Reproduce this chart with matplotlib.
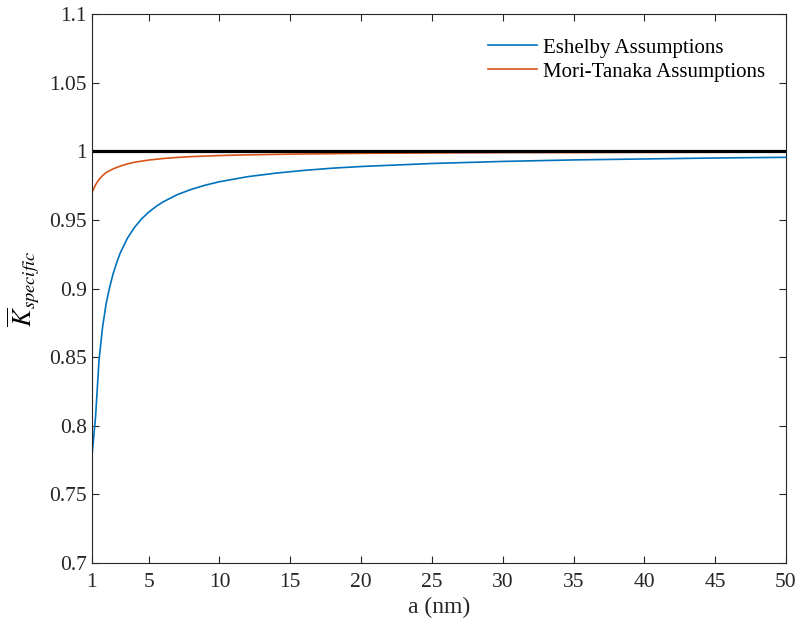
import numpy as np
import matplotlib
matplotlib.use("Agg")
import matplotlib.pyplot as plt

# values
a_esh = [1.0, 1.25, 1.5, 1.75, 2.0, 2.25, 2.5, 2.75, 3.0, 3.5, 4.0, 4.5, 5.0,
         5.5, 6.0, 7.0, 8.0, 9.0, 10, 12, 14, 16, 18, 20, 25, 30, 35, 40, 45, 50]
k_esh = [0.778, 0.806, 0.848, 0.872, 0.889, 0.901, 0.911, 0.919, 0.926, 0.9366,
         0.9445, 0.9507, 0.9556, 0.9596, 0.963, 0.9683, 0.9722, 0.9753, 0.9778,
         0.9815, 0.9841, 0.9861, 0.9877, 0.9889, 0.9911, 0.9926, 0.9937,
         0.9944, 0.9951, 0.9956]

a_mt = [1.0, 1.25, 1.5, 1.75, 2.0, 2.5, 3.0, 3.5, 4.0, 5.0, 6.0, 7.0, 8.0, 10,
        12, 15, 20, 25, 30, 40, 50]
k_mt = [0.970, 0.9755, 0.9795, 0.9823, 0.9845, 0.9872, 0.9892, 0.9908, 0.9920,
        0.9936, 0.9947, 0.9955, 0.9961, 0.9969, 0.9974, 0.9979, 0.9985, 0.9988,
        0.9990, 0.9992, 0.9994]

ref_level = 1.0
xticks = [1, 5, 10, 15, 20, 25, 30, 35, 40, 45, 50]
yticks = [0.7, 0.75, 0.8, 0.85, 0.9, 0.95, 1.0, 1.05, 1.1]
ytick_labels = ["0.7", "0.75", "0.8", "0.85", "0.9", "0.95", "1", "1.05", "1.1"]

plt.rcParams['font.family'] = ['Liberation Serif', 'DejaVu Serif']
plt.rcParams['mathtext.fontset'] = 'stix'

fig = plt.figure(figsize=(7.99, 6.26), dpi=100)
ax = fig.add_axes([0.1151, 0.1006, 0.8686, 0.877])

ax.plot(a_esh, k_esh, color="#0072BD", linewidth=1.2, label="Eshelby Assumptions")
ax.plot(a_mt, k_mt, color="#D95319", linewidth=1.2, label="Mori-Tanaka Assumptions")
ax.axhline(ref_level, color="black", linewidth=2.3)

ax.set_xlim(1, 50)
ax.set_ylim(0.7, 1.1)
ax.set_xticks(xticks)
ax.set_yticks(yticks)
ax.set_yticklabels(ytick_labels)
ax.tick_params(direction="in", top=True, right=True, length=5, width=0.8,
               labelsize=15.5, colors="#262626")
ax.tick_params(axis="x", pad=7)
for s in ax.spines.values():
    s.set_color("#262626")
    s.set_linewidth(0.8)

ax.set_xlabel("a (nm)", fontsize=17, color="#262626", labelpad=4)
ax.set_ylabel(r"$\overline{K}_{specific}$", fontsize=19, labelpad=6)

leg = ax.legend(loc="upper right", bbox_to_anchor=(1.006, 1.002), frameon=False,
                fontsize=15, handlelength=2.35, labelspacing=0.22,
                borderaxespad=0.8, handletextpad=0.3)

fig.savefig("out.png", dpi=100)
